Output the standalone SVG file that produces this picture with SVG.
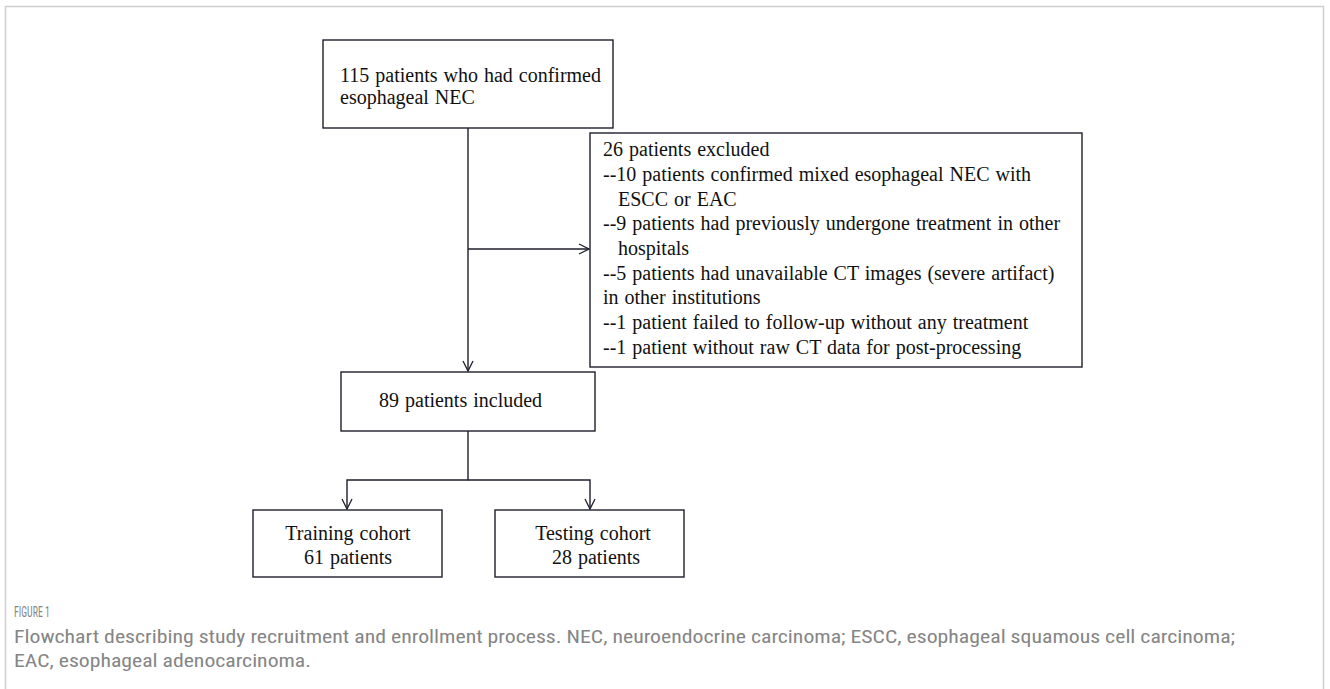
<svg xmlns="http://www.w3.org/2000/svg" width="1330" height="689" viewBox="0 0 1330 689">
<style>
.box{fill:#fff;stroke:#1e1e2e;stroke-width:1.4}
.t{font-family:"Liberation Serif","Times New Roman",serif;font-size:20px;fill:#111;word-spacing:1px}
.c{fill:none;stroke:#1e1e2e;stroke-width:1.4}
.cap{font-family:"Liberation Sans Narrow","Roboto Condensed","Open Sans","Liberation Sans",sans-serif;fill:#858585}
</style>
<defs>
<marker id="ah" viewBox="0 0 12 12" refX="11" refY="6" markerWidth="12" markerHeight="12" markerUnits="userSpaceOnUse" orient="auto">
<polyline points="1,1 11,6 1,11" fill="none" stroke="#1e1e2e" stroke-width="1.3"/>
</marker>
</defs>
<rect x="5.5" y="6.5" width="1318" height="720" fill="none" stroke="#cfcfcf" stroke-width="1.5"/>
<g id="connectors">
<line class="c" x1="468" y1="128" x2="468" y2="371" marker-end="url(#ah)"/>
<line class="c" x1="468" y1="249" x2="589" y2="249" marker-end="url(#ah)"/>
<polyline class="c" points="468,431 468,480 347,480 347,509" marker-end="url(#ah)"/>
<polyline class="c" points="468,480 590,480 590,509" marker-end="url(#ah)"/>
</g>
<g id="n_start">
<rect class="box" x="323" y="40" width="290" height="88"/>
<text class="t" x="340" y="82">115 patients who had confirmed</text>
<text class="t" x="340" y="104">esophageal NEC</text>
</g>
<g id="n_excluded">
<rect class="box" x="590" y="133" width="492" height="234"/>
<text class="t" x="603" y="156">26 patients excluded</text>
<text class="t" x="603" y="181">--10 patients confirmed mixed esophageal NEC with</text>
<text class="t" x="618" y="206">ESCC or EAC</text>
<text class="t" x="603" y="230">--9 patients had previously undergone treatment in other</text>
<text class="t" x="618" y="255">hospitals</text>
<text class="t" x="603" y="280">--5 patients had unavailable CT images (severe artifact)</text>
<text class="t" x="603" y="304">in other institutions</text>
<text class="t" x="603" y="329">--1 patient failed to follow-up without any treatment</text>
<text class="t" x="603" y="354">--1 patient without raw CT data for post-processing</text>
</g>
<g id="n_included">
<rect class="box" x="341" y="372" width="254" height="59"/>
<text class="t" x="379" y="407">89 patients included</text>
</g>
<g id="n_training">
<rect class="box" x="253" y="510" width="189" height="67"/>
<text class="t" x="348" y="540" text-anchor="middle">Training cohort</text>
<text class="t" x="348" y="564" text-anchor="middle">61 patients</text>
</g>
<g id="n_testing">
<rect class="box" x="495" y="510" width="189" height="67"/>
<text class="t" x="593" y="540" text-anchor="middle">Testing cohort</text>
<text class="t" x="596" y="564" text-anchor="middle">28 patients</text>
</g>
<text class="cap" x="14" y="617" font-size="15" textLength="36" lengthAdjust="spacingAndGlyphs">FIGURE 1</text>
<text class="cap" x="14" y="643" font-size="19" textLength="1221" lengthAdjust="spacingAndGlyphs">Flowchart describing study recruitment and enrollment process. NEC, neuroendocrine carcinoma; ESCC, esophageal squamous cell carcinoma;</text>
<text class="cap" x="14" y="667" font-size="19" textLength="297" lengthAdjust="spacingAndGlyphs">EAC, esophageal adenocarcinoma.</text>
</svg>
